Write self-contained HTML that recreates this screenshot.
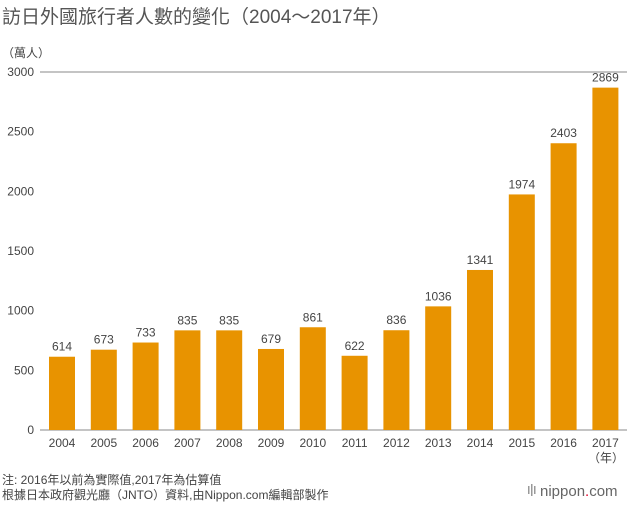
<!DOCTYPE html>
<html><head><meta charset="utf-8"><style>
body{margin:0;background:#fff;width:640px;height:504px;overflow:hidden;font-family:"Liberation Sans","Noto Sans CJK TC",sans-serif;}
svg text{font-family:"Liberation Sans","Noto Sans CJK TC",sans-serif;}
</style></head><body>
<svg width="640" height="504">
<text x="2" y="23" font-size="19" fill="#555">訪日外國旅行者人數的變化（2004～2017年）</text>
<text x="2" y="57" font-size="12" fill="#444">（萬人）</text>
<g id="axes"></g>
<g id="bars"></g>
<text x="606" y="462" font-size="12" fill="#444" text-anchor="middle">（年）</text>
<text x="2" y="484" font-size="12" fill="#444">注: 2016年以前為實際值,2017年為估算值</text>
<text x="2" y="499" font-size="12" fill="#444">根據日本政府觀光廳（JNTO）資料,由Nippon.com編輯部製作</text>
<g>
<rect x="528" y="486" width="1.5" height="8" fill="#999"/><rect x="531" y="484" width="1.5" height="12" fill="#999"/><rect x="534" y="486" width="1.5" height="8" fill="#999"/>
<text x="540" y="496" font-size="15" fill="#666">nippon<tspan fill="#e4002b">.</tspan>com</text>
</g>
</svg>
<script>
const years=["2004","2005","2006","2007","2008","2009","2010","2011","2012","2013","2014","2015","2016","2017"];
const visitors=[614,673,733,835,835,679,861,622,836,1036,1341,1974,2403,2869];
const yTicks=[0,500,1000,1500,2000,2500,3000];
const NS="http://www.w3.org/2000/svg";
const y0=430,yTopPx=72,yMax=3000,xL=40,xR=627;
const y=v=>y0-(v/yMax)*(y0-yTopPx);
const x=i=>62+i*41.8;
function mk(t,a,p){const e=document.createElementNS(NS,t);for(const k in a)e.setAttribute(k,a[k]);p.appendChild(e);return e;}
const ax=document.getElementById('axes'),bg=document.getElementById('bars');
yTicks.forEach(v=>{
 const t=mk('text',{x:34,y:y(v)+4,'font-size':12,fill:'#444','text-anchor':'end'},ax);t.textContent=v;
 
 
});
const topLine=mk('line',{x1:xL,x2:xR,y1:y(3000),y2:y(3000),stroke:'#888','stroke-width':1},ax);


years.forEach((yr,i)=>{
 const v=visitors[i];
 const r=mk('rect',{x:x(i)-13,y:y(v),width:26,height:y0-y(v),fill:'#e89300'},bg);
 
 
 const l=mk('text',{x:x(i),y:y(v)-6,'font-size':12,fill:'#444','text-anchor':'middle'},bg);l.textContent=v;
 
 
 const xt=mk('text',{x:x(i),y:447,'font-size':12,fill:'#444','text-anchor':'middle'},ax);xt.textContent=yr;
 
 
});
const base=mk('line',{x1:xL,x2:xR,y1:y0,y2:y0,stroke:'#888','stroke-width':1},ax);


</script>
</body></html>
